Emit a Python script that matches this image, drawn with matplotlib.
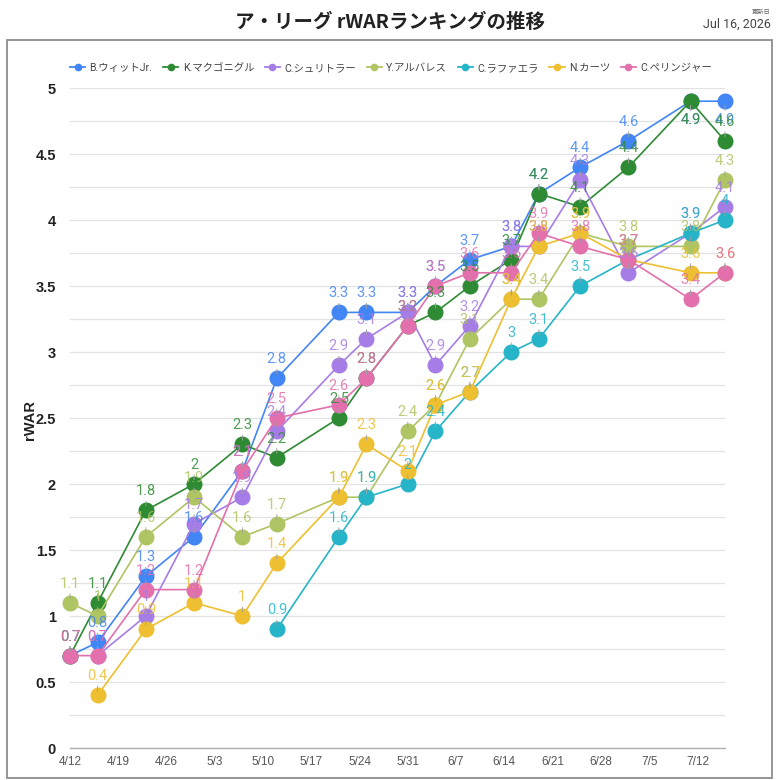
import numpy as np
import pandas as pd
import matplotlib
matplotlib.use("Agg")
import matplotlib.pyplot as plt
from matplotlib.patches import Rectangle
from matplotlib.lines import Line2D
from matplotlib.ticker import MultipleLocator, FixedLocator, FuncFormatter
import matplotlib.dates as mdates

plt.rcParams['font.family'] = ['Roboto', 'Noto Sans CJK JP', 'DejaVu Sans']

nan = np.nan
dates = ["2026-04-12", "2026-04-16", "2026-04-23", "2026-04-30", "2026-05-07",
         "2026-05-12", "2026-05-21", "2026-05-25", "2026-05-31", "2026-06-04",
         "2026-06-09", "2026-06-15", "2026-06-19", "2026-06-25", "2026-07-02",
         "2026-07-11", "2026-07-16"]

players = ["B.ウィットJr.", "K.マクゴニグル", "C.シュリトラー", "Y.アルバレス",
           "C.ラファエラ", "N.カーツ", "C.ペリンジャー"]
colors = ["#4285f4", "#2e8b34", "#a67de6", "#afc462", "#26b4c8", "#eebf30", "#e370ad"]

witt      = [0.7, 0.8, 1.3, 1.6, 2.1, 2.8, 3.3, 3.3, 3.3, 3.5, 3.7, 3.8, 4.2, 4.4, 4.6, 4.9, 4.9]
mcgonigle = [0.7, 1.1, 1.8, 2.0, 2.3, 2.2, 2.5, 2.8, 3.2, 3.3, 3.5, 3.7, 4.2, 4.1, 4.4, 4.9, 4.6]
schlittler= [nan, 0.7, 1.0, 1.7, 1.9, 2.4, 2.9, 3.1, 3.3, 2.9, 3.2, 3.8, 3.8, 4.3, 3.6, 3.9, 4.1]
alvarez   = [1.1, 1.0, 1.6, 1.9, 1.6, 1.7, 1.9, 1.9, 2.4, 2.6, 3.1, 3.4, 3.4, 3.9, 3.8, 3.8, 4.3]
rafaela   = [nan, nan, nan, nan, nan, 0.9, 1.6, 1.9, 2.0, 2.4, 2.7, 3.0, 3.1, 3.5, 3.7, 3.9, 4.0]
kurtz     = [nan, 0.4, 0.9, 1.1, 1.0, 1.4, 1.9, 2.3, 2.1, 2.6, 2.7, 3.4, 3.8, 3.9, 3.7, 3.6, 3.6]
pellinger = [0.7, 0.7, 1.2, 1.2, 2.1, 2.5, 2.6, 2.8, 3.2, 3.5, 3.6, 3.6, 3.9, 3.8, 3.7, 3.4, 3.6]
series = [witt, mcgonigle, schlittler, alvarez, rafaela, kurtz, pellinger]

x_ticks = ["2026-04-12", "2026-04-19", "2026-04-26", "2026-05-03", "2026-05-10",
           "2026-05-17", "2026-05-24", "2026-05-31", "2026-06-07", "2026-06-14",
           "2026-06-21", "2026-06-28", "2026-07-05", "2026-07-12"]

title = "ア・リーグ rWARランキングの推移"
updated_label = "更新日"
updated_date = "Jul 16, 2026"

W = 780
fig = plt.figure(figsize=(7.8, 7.8), dpi=100)
fig.patch.set_facecolor("white")
ax = fig.add_axes([70 / W, 1 - 748 / W, 655 / W, 660 / W])

x = pd.to_datetime(dates)
xnum = mdates.date2num(x)

for i, (name, vals, c) in enumerate(zip(players, series, colors)):
    v = np.array(vals, dtype=float)
    m = ~np.isnan(v)
    ax.plot(xnum[m], v[m], color=c, lw=1.2, marker='o', ms=10.5, mfc=c, mec=c,
            zorder=3 + i, label=name, clip_on=False)

for i, (vals, c) in enumerate(zip(series, colors)):
    for xx, val in zip(xnum, vals):
        if np.isnan(val):
            continue
        below = val >= 4.85
        dy = -12 if below else 12
        ax.annotate(f"{val:g}", xy=(xx, val), xytext=(0, dy), textcoords='offset pixels',
                    ha='center', va='top' if below else 'bottom', fontsize=10.5,
                    color=c, alpha=0.85, zorder=20 + i, annotation_clip=False,
                    arrowprops=dict(arrowstyle='-', color='#a0a0a0', lw=0.6,
                                    shrinkA=0, shrinkB=3))

ax.set_xlim(mdates.date2num(pd.Timestamp("2026-04-12")), mdates.date2num(pd.Timestamp("2026-07-16")))
ax.set_ylim(0, 5)
ax.xaxis.set_major_locator(FixedLocator(mdates.date2num(pd.to_datetime(x_ticks))))
ax.xaxis.set_major_formatter(FuncFormatter(lambda v, p: f"{mdates.num2date(v).month}/{mdates.num2date(v).day}"))
ax.yaxis.set_major_locator(MultipleLocator(0.5))
ax.yaxis.set_minor_locator(MultipleLocator(0.25))
ax.yaxis.set_major_formatter(FuncFormatter(lambda v, p: f"{v:g}"))
ax.grid(axis='y', which='both', color='#e2e2e2', lw=0.9, zorder=0)
ax.set_axisbelow(True)
for s in ['top', 'right', 'left']:
    ax.spines[s].set_visible(False)
ax.spines['bottom'].set_color('#b0b0b0')
ax.spines['bottom'].set_linewidth(1.0)
ax.tick_params(axis='both', which='both', length=0)
ax.tick_params(axis='y', pad=10, labelsize=10.5, labelcolor='#222222')
ax.tick_params(axis='x', pad=6, labelsize=8.5, labelcolor='#555555')
for lab in ax.get_yticklabels():
    lab.set_fontweight('bold')
    lab.set_family(['Liberation Sans', 'DejaVu Sans'])
for lab in ax.get_xticklabels():
    lab.set_family(['Liberation Sans', 'DejaVu Sans'])

fig.text(30 / W, 1 - 420 / W, "rWAR", rotation=90, ha='center', va='center',
         fontsize=10.5, fontweight='bold', color='#222222',
         family=['Liberation Sans', 'DejaVu Sans'])

fig.text(0.5, 1 - 22 / W, title, ha='center', va='center', fontsize=14,
         fontweight='bold', color='#222222', family=['Noto Sans CJK JP', 'DejaVu Sans'])
fig.text(770 / W, 1 - 12 / W, updated_label, ha='right', va='center', fontsize=4.5,
         color='#666666', family=['Noto Sans CJK JP', 'DejaVu Sans'])
fig.text(771 / W, 1 - 24 / W, updated_date, ha='right', va='center', fontsize=9,
         color='#444444')

fig.add_artist(Rectangle((7 / W, 2 / W), 765 / W, 738 / W, transform=fig.transFigure,
                         fill=False, ec='#8c8c8c', lw=1.3))

hs = [Line2D([0], [0], color=c, lw=1.3, marker='o', ms=4.5) for c in colors]
fig.legend(hs, players, loc='center', bbox_to_anchor=(391 / W, 1 - 68 / W), ncol=7,
           frameon=False, fontsize=7.5, handlelength=1.5, handletextpad=0.4,
           columnspacing=1.0, labelcolor='#444444')

fig.savefig("out.png", dpi=100, facecolor='white')
